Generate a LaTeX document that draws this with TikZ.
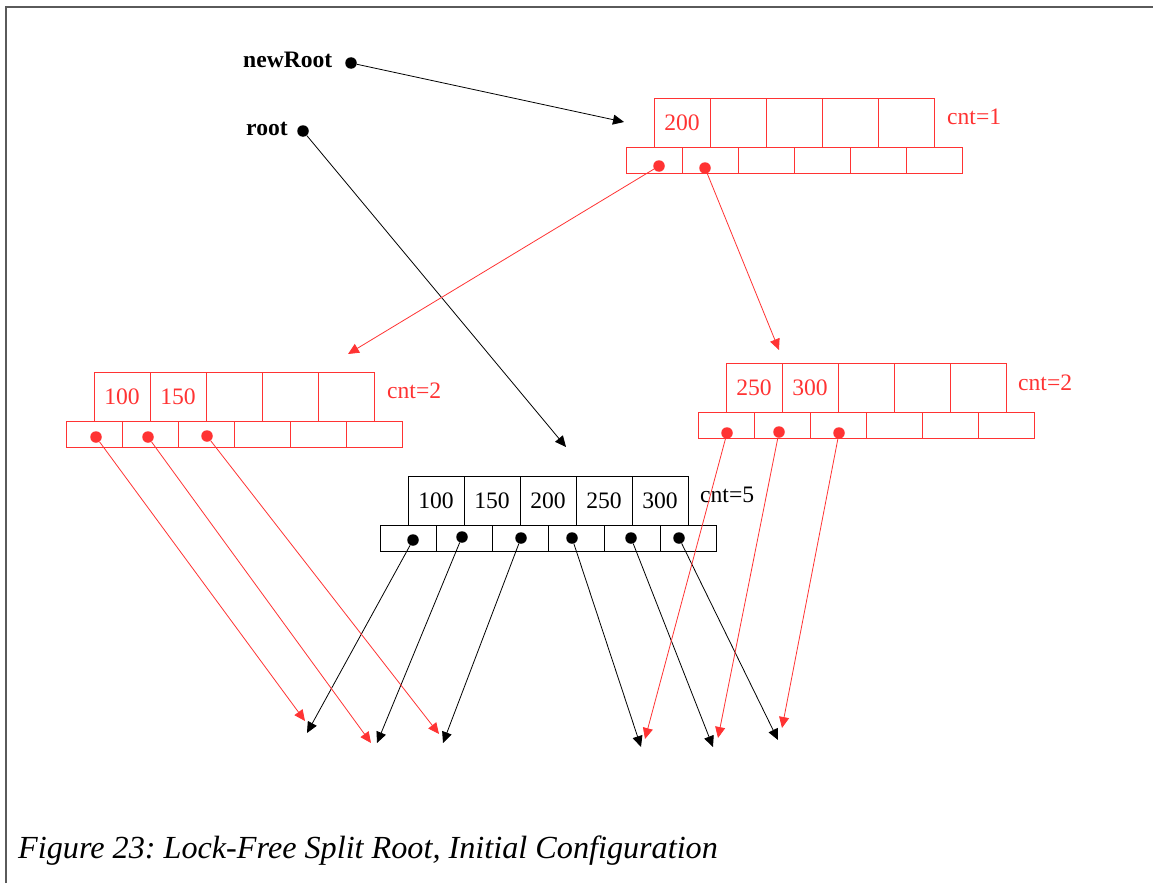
\documentclass[tikz,border=0pt]{standalone}
\usepackage{fontspec}
\setmainfont{Liberation Serif}
\usetikzlibrary{arrows.meta}
\definecolor{ptrred}{RGB}{255,51,51}
\definecolor{framegray}{RGB}{90,90,90}
\frenchspacing

\begin{document}
\begin{tikzpicture}[x=1pt,y=-1pt,
  txt/.style={font=\fontsize{23.6}{24}\selectfont},
  keycell/.style={draw, line width=0.9pt, minimum width=56pt, minimum height=49pt, inner sep=0pt, txt},
  ptrcell/.style={draw, line width=0.9pt, minimum width=56pt, minimum height=26pt, inner sep=0pt},
  dot/.style={circle, fill, inner sep=0pt, minimum size=11.5pt},
  link/.style={-{Triangle[length=11pt,width=10pt]}, line width=0.8pt},
  lbl/.style={anchor=base west, inner sep=0pt, txt},
]
\useasboundingbox (0,0) rectangle (1153,883);

% page frame
\draw[framegray, line width=1.5pt] (6,883) -- (6,7) -- (1153,7);

% ---------- new root node (red) ----------
\begin{scope}[ptrred]
  \foreach \i/\k in {1/200,2/,3/,4/,5/}
    \node[keycell] (T-k\i) at ({626+56*\i}, 122.5) {\k};
  \foreach \j in {1,...,6}
    \node[ptrcell] (T-c\j) at ({598+56*\j}, 160) {};
  \node[lbl] (T-cnt) at (947,124) {cnt=1};
  \node[dot] (T-p1) at (659,166) {};
  \node[dot] (T-p2) at (705,168) {};
\end{scope}

% ---------- left child (red) ----------
\begin{scope}[ptrred]
  \foreach \i/\k in {1/100,2/150,3/,4/,5/}
    \node[keycell] (L-k\i) at ({66+56*\i}, 396.5) {\k};
  \foreach \j in {1,...,6}
    \node[ptrcell] (L-c\j) at ({38+56*\j}, 434) {};
  \node[lbl] (L-cnt) at (387,398) {cnt=2};
  \node[dot] (L-p1) at (96,437) {};
  \node[dot] (L-p2) at (148,437) {};
  \node[dot] (L-p3) at (207,436) {};
\end{scope}

% ---------- right child (red) ----------
\begin{scope}[ptrred]
  \foreach \i/\k in {1/250,2/300,3/,4/,5/}
    \node[keycell] (R-k\i) at ({698+56*\i}, 388) {\k};
  \foreach \j in {1,...,6}
    \node[ptrcell] (R-c\j) at ({670+56*\j}, 425.5) {};
  \node[lbl] (R-cnt) at (1018,390) {cnt=2};
  \node[dot] (R-p1) at (727,433) {};
  \node[dot] (R-p2) at (779,432) {};
  \node[dot] (R-p3) at (839,433) {};
\end{scope}

% ---------- old root node (black) ----------
\foreach \i/\k in {1/100,2/150,3/200,4/250,5/300}
  \node[keycell] (B-k\i) at ({380+56*\i}, 500.5) {\k};
\foreach \j in {1,...,6}
  \node[ptrcell] (B-c\j) at ({352+56*\j}, 538) {};
\node[lbl] (B-cnt) at (700,502) {cnt=5};
\node[dot] (B-p1) at (413,540) {};
\node[dot] (B-p2) at (462,537) {};
\node[dot] (B-p3) at (521,538) {};
\node[dot] (B-p4) at (572,538) {};
\node[dot] (B-p5) at (631,538) {};
\node[dot] (B-p6) at (679,538) {};

% ---------- root pointers ----------
\node[lbl, font=\fontsize{23.6}{24}\selectfont\bfseries] (newRoot-lbl) at (243,67) {newRoot};
\node[lbl, font=\fontsize{23.6}{24}\selectfont\bfseries] (root-lbl) at (246,135) {root};
\node[dot] (newRoot) at (351,63) {};
\node[dot] (root) at (303,131) {};

% ---------- arrow end points ----------
\coordinate (T-in) at (624,122);
\coordinate (B-in) at (566,447);
\coordinate (L-in) at (348,354);
\coordinate (R-in) at (779,350);
\coordinate (c1r) at (305,721);
\coordinate (c2r) at (371,743);
\coordinate (c3r) at (439,734);
\coordinate (c1b) at (307,733);
\coordinate (c2b) at (377,743);
\coordinate (c3b) at (443,743);
\coordinate (c4b) at (641,747);
\coordinate (c5b) at (713,747);
\coordinate (c6b) at (778,740);
\coordinate (c4r) at (645,739);
\coordinate (c5r) at (718,738);
\coordinate (c6r) at (782,728);

% black links
\draw[link] (newRoot) -- (T-in);
\draw[link] (root) -- (B-in);
\draw[link] (B-p1) -- (c1b);
\draw[link] (B-p2) -- (c2b);
\draw[link] (B-p3) -- (c3b);
\draw[link] (B-p4) -- (c4b);
\draw[link] (B-p5) -- (c5b);
\draw[link] (B-p6) -- (c6b);

% red links
\begin{scope}[ptrred]
  \draw[link] (T-p1) -- (L-in);
  \draw[link] (T-p2) -- (R-in);
  \draw[link] (L-p1) -- (c1r);
  \draw[link] (L-p2) -- (c2r);
  \draw[link] (L-p3) -- (c3r);
  \draw[link] (R-p1) -- (c4r);
  \draw[link] (R-p2) -- (c5r);
  \draw[link] (R-p3) -- (c6r);
\end{scope}

% caption
\node[anchor=base west, inner sep=0pt, font=\fontsize{32.2}{33}\selectfont\itshape] (caption) at (18,858) {Figure 23: Lock-Free Split Root, Initial Configuration};
\end{tikzpicture}
\end{document}
